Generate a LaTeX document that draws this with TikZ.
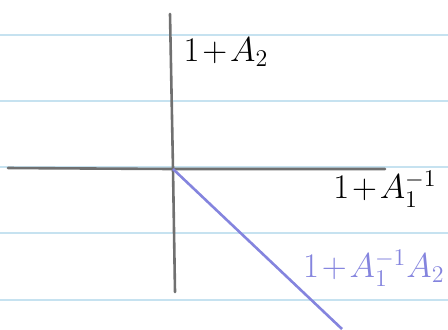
\documentclass[tikz,border=0pt]{standalone}
\usetikzlibrary{positioning}
\definecolor{ruling}{RGB}{198,226,240}
\definecolor{axisgray}{RGB}{112,112,112}
\definecolor{lineblue}{RGB}{132,132,222}
\newcommand{\pluslbl}[1]{$\medmuskip=1.5mu\relax #1$}

\begin{document}
\begin{tikzpicture}[x=0.5pt,y=-0.5pt,
    axis/.style={axisgray,line width=1.3pt,line cap=round},
    label/.style={font=\LARGE,inner sep=0pt}]
  \useasboundingbox (0,0) rectangle (448,329);
  % ruled paper
  \foreach \y in {35,101,167,233,300}
    \draw[ruling,line width=1.2pt] (0,\y) -- (448,\y);
  % axes
  \coordinate (origin) at (173,169);
  \coordinate (xleft) at (8,168);
  \coordinate (xright) at (385,169);
  \coordinate (ytop) at (170,14);
  \coordinate (ybot) at (175,292);
  \draw[axis] (xleft) -- (origin) -- (xright);
  \draw[axis] (ytop) -- (origin) -- (ybot);
  \node[label] (ylab) at (226,52) {\pluslbl{1+A_2}};
  \node[label] (xlab) at (385,189) {\pluslbl{1+A_1^{-1}}};
  % line
  \coordinate (lineend) at (342,329);
  \draw[lineblue,line width=1.3pt] (origin) -- (lineend);
  \node[label,lineblue,anchor=east] (linelab) at (445,268) {\pluslbl{1+A_1^{-1}A_2}};
\end{tikzpicture}
\end{document}
